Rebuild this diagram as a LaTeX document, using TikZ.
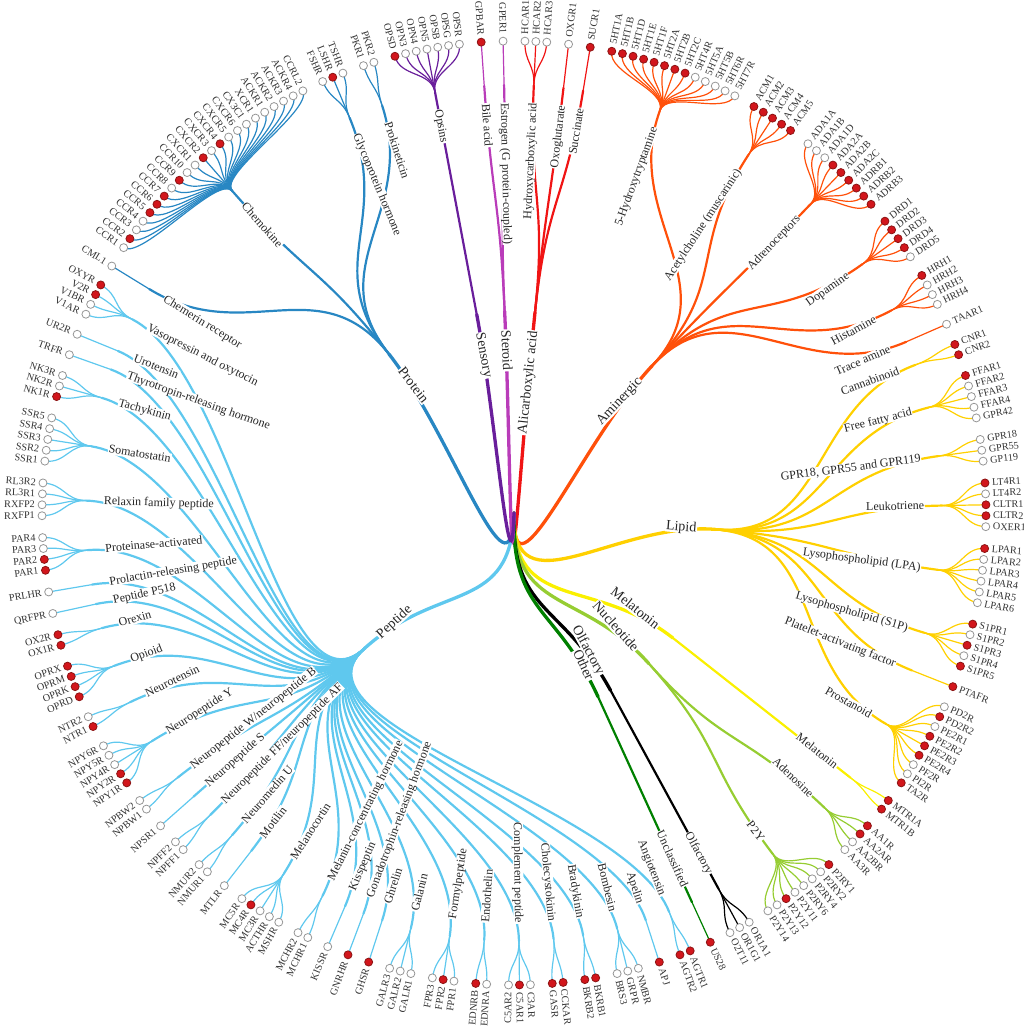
\documentclass[tikz,border=0pt]{standalone}
\usepackage{fontspec}
\setmainfont{Liberation Serif}
\definecolor{cProt}{RGB}{40,135,195}
\definecolor{cSens}{RGB}{105,30,155}
\definecolor{cSter}{RGB}{185,60,185}
\definecolor{cAlic}{RGB}{240,20,20}
\definecolor{cAmin}{RGB}{255,80,10}
\definecolor{cLipi}{RGB}{255,208,0}
\definecolor{cMela}{RGB}{250,240,0}
\definecolor{cNucl}{RGB}{150,205,50}
\definecolor{cOlfa}{RGB}{0,0,0}
\definecolor{cOthe}{RGB}{0,128,0}
\definecolor{cPept}{RGB}{95,200,238}
\definecolor{hitred}{RGB}{210,22,28}
\definecolor{hitedge}{RGB}{140,20,20}
\definecolor{misedge}{RGB}{150,150,150}
\newcommand\Uang{1.328413}
\newcommand\RA{202}
\newcommand\RB{428}
\newcommand\RC{472}
\newcommand\RBC{450}
\newcommand\rootang{181.660}
\newif\iflinkpass
\tikzset{
  rootlink/.style={line width=3.3pt, line cap=round},
  famlink/.style={line width=2.2pt, line cap=round},
  leaflink/.style={line width=1.2pt, line cap=round},
  leafdot/.style={circle, minimum size=8pt, inner sep=0pt, line width=0.8pt},
  classtext/.style={font=\fontsize{14}{14}\selectfont, fill=white, inner sep=0.8pt, text height=9.5pt, text depth=1pt, text=black!85},
  famtext/.style={font=\fontsize{12}{12}\selectfont, fill=white, inner sep=0.6pt, text height=8.2pt, text depth=1pt, text=black!85},
  leaftext/.style={font=\fontsize{10.2}{10.2}\selectfont, inner sep=0pt, text height=7pt, text depth=0.8pt, text=black!80},
}
\newcommand\inlabel[5]{%
  \pgfmathsetmacro\lbth{#1}%
  \ifdim\lbth pt<180pt
    \node[#4,anchor=east,rotate={90-\lbth}] (#5) at ({90-\lbth}:{#2}) {#3};%
  \else
    \node[#4,anchor=west,rotate={270-\lbth}] (#5) at ({90-\lbth}:{#2}) {#3};%
  \fi
}
\newcommand\classnode[4]{%
  \pgfmathsetmacro\cth{#2*\Uang}%
  \expandafter\xdef\csname cang@#1\endcsname{\cth}%
  \expandafter\xdef\csname ccol@#1\endcsname{#4}%
  \coordinate (#1) at ({90-\cth}:\RA);
  \iflinkpass
    \pgfmathsetmacro\rmid{\RA/2}%
    \draw[rootlink,color=#4] (root) .. controls ({90-\rootang}:\rmid) and ({90-\cth}:\rmid) .. (#1);
  \else
    \inlabel{\cth}{\RA-18}{#3}{classtext}{lab-#1}%
  \fi
}
\newcommand\famgroup[6]{%
  \pgfmathsetmacro\fth{(#4+#5)/2*\Uang}%
  \edef\pth{\csname cang@#1\endcsname}%
  \edef\pcol{\csname ccol@#1\endcsname}%
  \coordinate (#2) at ({90-\fth}:\RB);
  \iflinkpass
    \pgfmathsetmacro\rmid{(\RA+\RB)/2}%
    \draw[famlink,color=\pcol] (#1) .. controls ({90-\pth}:\rmid) and ({90-\fth}:\rmid) .. (#2);
  \fi
  \foreach \lname/\lfill [count=\li from 0] in {#6} {%
    \pgfmathsetmacro\lth{(#4+\li)*\Uang}%
    \coordinate (lf-\lname) at ({90-\lth}:\RC);
    \iflinkpass
      \draw[leaflink,color=\pcol] (#2) .. controls ({90-\fth}:\RBC) and ({90-\lth}:\RBC) .. (lf-\lname);
    \else
      \ifnum\lfill=1\relax
        \node[leafdot,fill=hitred,draw=hitedge] (dot-\lname) at (lf-\lname) {};
      \else
        \node[leafdot,fill=white,draw=misedge] (dot-\lname) at (lf-\lname) {};
      \fi
      \ifdim\lth pt<180pt
        \node[leaftext,anchor=west,rotate={90-\lth}] (txt-\lname) at ({90-\lth}:{\RC+7}) {\lname};
      \else
        \node[leaftext,anchor=east,rotate={270-\lth}] (txt-\lname) at ({90-\lth}:{\RC+7}) {\lname};
      \fi
    \fi
  }%
  \iflinkpass\else
    \inlabel{\fth}{\RB-17}{#3}{famtext}{lab-#2}%
  \fi
}
\newcommand\treedata{%
\classnode{alic}{4.5}{Alicarboxylic acid}{cAlic}
\famgroup{alic}{fHCA}{Hydroxycarboxylic acid}{1}{3}{HCAR1/0,HCAR2/0,HCAR3/0}
\famgroup{alic}{fOXO}{Oxoglutarate}{5}{5}{OXGR1/0}
\famgroup{alic}{fSUC}{Succinate}{7}{7}{SUCR1/1}
\classnode{amin}{32.5}{Aminergic}{cAmin}
\famgroup{amin}{f5HT}{5-Hydroxytryptamine}{9}{21}{5HT1A/1,5HT1B/1,5HT1D/1,5HT1E/1,5HT1F/1,5HT2A/1,5HT2B/1,5HT2C/1,5HT4R/0,5HT5A/0,5HT5B/0,5HT6R/0,5HT7R/0}
\famgroup{amin}{fACM}{Acetylcholine (muscarinic)}{23}{27}{ACM1/1,ACM2/1,ACM3/1,ACM4/1,ACM5/1}
\famgroup{amin}{fADR}{Adrenoceptors}{29}{37}{ADA1A/0,ADA1B/0,ADA1D/0,ADA2A/1,ADA2B/1,ADA2C/1,ADRB1/1,ADRB2/1,ADRB3/1}
\famgroup{amin}{fDRD}{Dopamine}{39}{43}{DRD1/1,DRD2/1,DRD3/1,DRD4/1,DRD5/0}
\famgroup{amin}{fHRH}{Histamine}{45}{48}{HRH1/1,HRH2/0,HRH3/0,HRH4/0}
\famgroup{amin}{fTAA}{Trace amine}{50}{50}{TAAR1/0}
\classnode{lipi}{71.25}{Lipid}{cLipi}
\famgroup{lipi}{fCNR}{Cannabinoid}{52}{53}{CNR1/1,CNR2/1}
\famgroup{lipi}{fFFA}{Free fatty acid}{55}{59}{FFAR1/1,FFAR2/0,FFAR3/0,FFAR4/0,GPR42/0}
\famgroup{lipi}{fGPR}{GPR18, GPR55 and GPR119}{61}{63}{GPR18/0,GPR55/0,GP119/0}
\famgroup{lipi}{fLTR}{Leukotriene}{65}{69}{LT4R1/1,LT4R2/0,CLTR1/1,CLTR2/1,OXER1/0}
\famgroup{lipi}{fLPA}{Lysophospholipid (LPA)}{71}{76}{LPAR1/1,LPAR2/0,LPAR3/0,LPAR4/0,LPAR5/0,LPAR6/0}
\famgroup{lipi}{fS1P}{Lysophospholipid (S1P)}{78}{82}{S1PR1/1,S1PR2/0,S1PR3/1,S1PR4/0,S1PR5/1}
\famgroup{lipi}{fPAF}{Platelet-activating factor}{84}{84}{PTAFR/1}
\famgroup{lipi}{fPRO}{Prostanoid}{86}{94}{PD2R/0,PD2R2/1,PE2R1/0,PE2R2/1,PE2R3/1,PE2R4/1,PF2R/0,PI2R/0,TA2R/1}
\classnode{mela}{96.5}{Melatonin}{cMela}
\famgroup{mela}{fMTR}{Melatonin}{96}{97}{MTR1A/1,MTR1B/1}
\classnode{nucl}{104}{Nucleotide}{cNucl}
\famgroup{nucl}{fADO}{Adenosine}{99}{102}{AA1R/1,AA2AR/1,AA2BR/0,AA3R/0}
\famgroup{nucl}{fP2Y}{P2Y}{104}{111}{P2RY1/1,P2RY2/0,P2RY4/0,P2RY6/0,P2Y11/0,P2Y12/1,P2Y13/0,P2Y14/0}
\classnode{olfa}{114}{Olfactory}{cOlfa}
\famgroup{olfa}{fOLF}{Olfactory}{113}{115}{OR1A1/0,OR1G1/0,O2T11/0}
\classnode{othe}{117}{Other}{cOthe}
\famgroup{othe}{fUNC}{Unclassified}{117}{117}{US28/1}
\classnode{pept}{171.5}{Peptide}{cPept}
\famgroup{pept}{fAGT}{Angiotensin}{119}{120}{AGTR1/1,AGTR2/1}
\famgroup{pept}{fAPJ}{Apelin}{122}{122}{APJ/1}
\famgroup{pept}{fBOM}{Bombesin}{124}{126}{NMBR/0,GRPR/0,BRS3/0}
\famgroup{pept}{fBRA}{Bradykinin}{128}{129}{BKRB1/1,BKRB2/1}
\famgroup{pept}{fCCK}{Cholecystokinin}{131}{132}{CCKAR/1,GASR/1}
\famgroup{pept}{fCOM}{Complement peptide}{134}{136}{C3AR/0,C5AR1/1,C5AR2/0}
\famgroup{pept}{fEDN}{Endothelin}{138}{139}{EDNRA/0,EDNRB/1}
\famgroup{pept}{fFPR}{Formylpeptide}{141}{143}{FPR1/0,FPR2/1,FPR3/0}
\famgroup{pept}{fGAL}{Galanin}{145}{147}{GALR1/0,GALR2/0,GALR3/0}
\famgroup{pept}{fGHR}{Ghrelin}{149}{149}{GHSR/1}
\famgroup{pept}{fGNR}{Gonadotrophin-releasing hormone}{151}{151}{GNRHR/1}
\famgroup{pept}{fKIS}{Kisspeptin}{153}{153}{KISSR/0}
\famgroup{pept}{fMCH}{Melanin-concentrating hormone}{155}{156}{MCHR1/0,MCHR2/0}
\famgroup{pept}{fMCR}{Melanocortin}{158}{162}{MSHR/0,ACTHR/0,MC3R/0,MC4R/1,MC5R/0}
\famgroup{pept}{fMTL}{Motilin}{164}{164}{MTLR/0}
\famgroup{pept}{fNMU}{Neuromedin U}{166}{167}{NMUR1/0,NMUR2/0}
\famgroup{pept}{fNPF}{Neuropeptide FF/neuropeptide AF}{169}{170}{NPFF1/0,NPFF2/0}
\famgroup{pept}{fNPS}{Neuropeptide S}{172}{172}{NPSR1/0}
\famgroup{pept}{fNPW}{Neuropeptide W/neuropeptide B}{174}{175}{NPBW1/0,NPBW2/0}
\famgroup{pept}{fNPY}{Neuropeptide Y}{177}{181}{NPY1R/1,NPY2R/1,NPY4R/0,NPY5R/0,NPY6R/0}
\famgroup{pept}{fNTS}{Neurotensin}{183}{184}{NTR1/1,NTR2/0}
\famgroup{pept}{fOPI}{Opioid}{186}{189}{OPRD/1,OPRK/1,OPRM/1,OPRX/1}
\famgroup{pept}{fORX}{Orexin}{191}{192}{OX1R/1,OX2R/1}
\famgroup{pept}{fP51}{Peptide P518}{194}{194}{QRFPR/0}
\famgroup{pept}{fPRL}{Prolactin-releasing peptide}{196}{196}{PRLHR/0}
\famgroup{pept}{fPAR}{Proteinase-activated}{198}{201}{PAR1/1,PAR2/1,PAR3/0,PAR4/0}
\famgroup{pept}{fRLX}{Relaxin family peptide}{203}{206}{RXFP1/0,RXFP2/0,RL3R1/0,RL3R2/0}
\famgroup{pept}{fSST}{Somatostatin}{208}{212}{SSR1/0,SSR2/0,SSR3/0,SSR4/0,SSR5/0}
\famgroup{pept}{fTAC}{Tachykinin}{214}{216}{NK1R/1,NK2R/0,NK3R/0}
\famgroup{pept}{fTRH}{Thyrotropin-releasing hormone}{218}{218}{TRFR/0}
\famgroup{pept}{fURO}{Urotensin}{220}{220}{UR2R/0}
\famgroup{pept}{fVAS}{Vasopressin and oxytocin}{222}{225}{V1AR/0,V1BR/0,V2R/1,OXYR/1}
\classnode{prot}{242.25}{Protein}{cProt}
\famgroup{prot}{fCML}{Chemerin receptor}{227}{227}{CML1/0}
\famgroup{prot}{fCHE}{Chemokine}{229}{251}{CCR1/0,CCR2/1,CCR3/0,CCR4/0,CCR5/1,CCR6/1,CCR7/1,CCR8/0,CCR9/1,CCR10/0,CXCR1/0,CXCR2/1,CXCR3/0,CXCR4/1,CXCR5/0,CXCR6/0,CX3C1/0,XCR1/0,ACKR1/0,ACKR2/0,ACKR3/0,ACKR4/0,CCRL2/0}
\famgroup{prot}{fGLY}{Glycoprotein hormone}{253}{255}{FSHR/0,LSHR/1,TSHR/0}
\famgroup{prot}{fPKR}{Prokineticin}{257}{258}{PKR1/0,PKR2/0}
\classnode{ster}{269}{Steroid}{cSter}
\famgroup{ster}{fBIL}{Bile acid}{268}{268}{GPBAR/1}
\famgroup{ster}{fEST}{Estrogen (G protein-coupled)}{270}{270}{GPER1/0}
\classnode{sens}{263}{Sensory}{cSens}
\famgroup{sens}{fOPS}{Opsins}{260}{266}{OPSD/1,OPN3/0,OPN4/0,OPN5/0,OPSB/0,OPSG/0,OPSR/0}
}
\begin{document}
\begin{tikzpicture}[x=1pt,y=1pt]
\useasboundingbox (-514,-515) rectangle (510,513);
\coordinate (root) at (0,0);
\linkpasstrue
\treedata
\linkpassfalse
\treedata
\end{tikzpicture}
\end{document}
